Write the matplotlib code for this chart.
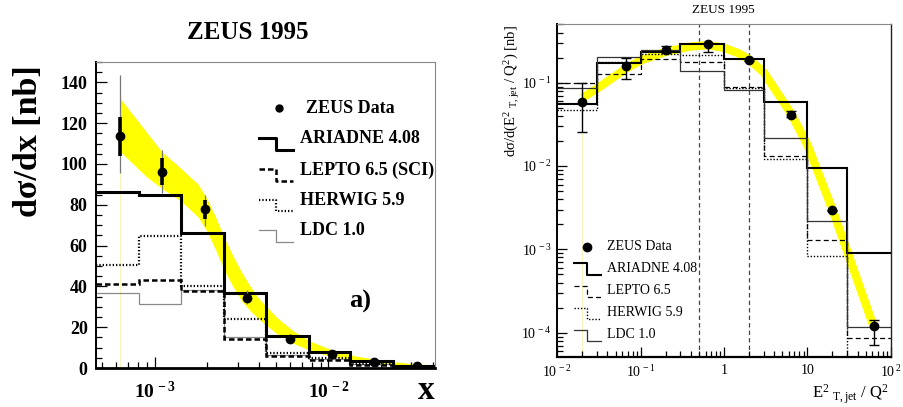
import numpy as np
import matplotlib
matplotlib.use('Agg')
import matplotlib.pyplot as plt
from matplotlib.ticker import FixedLocator, LogLocator, MultipleLocator, NullFormatter

plt.rcParams['font.family'] = ['Liberation Serif', 'DejaVu Serif']
plt.rcParams['mathtext.fontset'] = 'custom'
plt.rcParams['mathtext.rm'] = 'Liberation Serif'
plt.rcParams['mathtext.it'] = 'Liberation Serif:italic'
plt.rcParams['mathtext.bf'] = 'Liberation Serif:bold'

YELLOW = '#ffff00'
PALE_YELLOW = '#f5f0a0'

# ---- panel a) : dsigma/dx
x_edges_a = [4.6e-4, 8.1e-4, 1.42e-3, 2.5e-3, 4.4e-3, 7.7e-3, 1.33e-2, 2.35e-2, 4.1e-2]
ariadne_a = [86.5, 85.0, 66.3, 36.6, 15.5, 7.7, 3.3, 0.8]
lepto_a = [41.2, 43.1, 37.8, 14.2, 5.9, 4.1, 1.6, 0.4]
herwig_a = [50.5, 64.8, 40.2, 23.9, 7.5, 4.9, 2.0, 0.5]
ldc_a = [36.6, 31.3, 38.2, 15.0, 6.5, 4.5, 1.8, 0.4]

x_data_a = [6.35e-4, 1.10e-3, 1.94e-3, 3.40e-3, 6.03e-3, 1.05e-2, 1.83e-2, 3.22e-2]
y_data_a = [113.5, 96.2, 77.8, 34.5, 14.2, 6.8, 2.9, 1.1]
stat_a = [9.6, 6.5, 4.6, 1.5, 0.8, 0.5, 0.3, 0.1]
tot_up_a = [30.2, 10.5, 7.0, 3.5, 1.5, 0.8, 0.4, 0.2]
tot_dn_a = [18.0, 10.5, 8.0, 3.0, 1.5, 0.8, 0.4, 0.2]

band_x_a = [6.35e-4, 8.91e-4, 1.10e-3, 1.41e-3, 1.78e-3, 2.0e-3, 2.24e-3, 2.51e-3,
            2.82e-3, 3.16e-3, 3.55e-3, 3.98e-3, 5.01e-3, 6.31e-3, 7.94e-3, 1.0e-2,
            1.41e-2, 2.0e-2, 2.82e-2, 4.1e-2]
band_hi_a = [132, 116, 106, 98, 90, 83, 74, 64, 55, 47, 40, 34, 25, 18, 13, 9.5,
             6.0, 3.8, 2.4, 1.4]
band_lo_a = [106, 94, 88, 82, 74, 67, 58, 48, 40, 33, 28, 24, 17, 12, 8.5, 6.0,
             3.6, 2.2, 1.2, 0.5]

# ---- panel b) : dsigma/d(E_T^2/Q^2)
x_edges_b = [0.01, 0.03, 0.1, 0.3, 1, 3, 10, 30, 100]
ariadne_b = [0.0560, 0.172, 0.236, 0.289, 0.195, 0.0590, 9.6e-3, 9.1e-4]
lepto_b = [0.100, 0.127, 0.19, 0.179, 0.0895, 0.0133, 1.29e-3, 8.7e-5]
herwig_b = [0.047, 0.178, 0.219, 0.215, 0.087, 0.0121, 8.4e-4, 3e-5]
ldc_b = [0.0856, 0.201, 0.247, 0.139, 0.0820, 0.0215, 2.2e-3, 1.18e-4]

x_data_b = [0.02, 0.067, 0.2, 0.65, 2.0, 6.4, 20, 63]
y_data_b = [0.059, 0.16, 0.247, 0.288, 0.187, 0.0409, 2.96e-3, 1.2e-4]
y_hi_b = [0.1, 0.2, 0.278, 0.302, 0.195, 0.0457, 3.0e-3, 1.42e-4]
y_lo_b = [0.0258, 0.11, 0.225, 0.231, 0.18, 0.0383, 2.9e-3, 7.1e-5]

band_x_b = [0.02, 0.03, 0.067, 0.1, 0.2, 0.4, 0.65, 1.0, 1.5, 2.0, 3.0, 4.5, 6.4,
            10, 20, 30, 63]
band_y_b = [0.066, 0.085, 0.148, 0.185, 0.235, 0.272, 0.282, 0.262, 0.225, 0.19,
            0.133, 0.072, 0.042, 0.018, 3.0e-3, 9.5e-4, 1.15e-4]
cut_lines_b = [0.5, 2.0]

labels = ['ARIADNE 4.08', 'LEPTO 6.5 (SCI)', 'HERWIG 5.9', 'LDC 1.0']
labels_b = ['ARIADNE 4.08', 'LEPTO 6.5', 'HERWIG 5.9', 'LDC 1.0']


def step_key(ax, x0, xs, x1, yu, yl, **kw):
    ax.plot([x0, xs, xs, x1], [yu, yu, yl, yl], transform=ax.transAxes,
            clip_on=False, **kw)


fig = plt.figure(figsize=(9.04, 4.07), dpi=100)

# ================= left panel
ax1 = fig.add_axes([0.1062, 0.0958, 0.375, 0.752])
ax1.set_xscale('log')
ax1.set_xlim(4.6e-4, 4.1e-2)
ax1.set_ylim(0, 150)

ax1.fill_between(band_x_a, band_lo_a, band_hi_a, color=YELLOW, lw=0, zorder=1)
ax1.plot([band_x_a[0]] * 2, [0, band_lo_a[0]], color=PALE_YELLOW, lw=0.5, zorder=1)

sty_a = [dict(color='black', lw=2.2),
         dict(color='black', lw=1.8, ls=(0, (2.2, 1.2))),
         dict(color='black', lw=1.6, ls=(0, (0.6, 0.9))),
         dict(color='#888888', lw=0.9)]
for vals, st in zip([ldc_a, herwig_a, lepto_a, ariadne_a], sty_a[::-1]):
    ax1.stairs(vals, x_edges_a, baseline=None, zorder=2, **st)

ax1.errorbar(x_data_a, y_data_a, yerr=[tot_dn_a, tot_up_a], fmt='none',
             ecolor='#777777', elinewidth=0.9, zorder=3)
ax1.errorbar(x_data_a, y_data_a, yerr=[stat_a, stat_a], fmt='o', color='black',
             ms=6, elinewidth=2.6, zorder=4)

ax1.yaxis.set_major_locator(MultipleLocator(20))
ax1.yaxis.set_minor_locator(MultipleLocator(5))
ax1.xaxis.set_major_locator(FixedLocator([1e-3, 1e-2]))
ax1.xaxis.set_minor_locator(LogLocator(subs=np.arange(2, 10)))
ax1.xaxis.set_minor_formatter(NullFormatter())
ax1.set_xticklabels([r'$\mathbf{10^{\,-3}}$', r'$\mathbf{10^{\,-2}}$'])
ax1.tick_params(which='both', direction='in', top=False, right=False, width=0.9)
ax1.tick_params(which='major', length=8)
ax1.tick_params(which='minor', length=4.5)
ax1.tick_params(axis='y', labelsize=13, pad=6)
ax1.tick_params(axis='x', labelsize=14, pad=9)
for lab in ax1.get_yticklabels():
    lab.set_fontweight('bold')
for s in ['top', 'right']:
    ax1.spines[s].set_color('#888888')
    ax1.spines[s].set_linewidth(0.8)
ax1.spines['left'].set_linewidth(1.4)
ax1.spines['bottom'].set_linewidth(2.0)

ax1.plot([0.540], [0.850], 'o', color='black', ms=5, transform=ax1.transAxes)
ax1.text(0.619, 0.849, 'ZEUS Data', transform=ax1.transAxes, va='center',
         fontsize=13, fontweight='bold')
key_y = [(0.752, 0.712), (0.650, 0.611), (0.549, 0.513), (0.451, 0.412)]
for (yu, yl), lab, st in zip(key_y, labels, sty_a):
    step_key(ax1, 0.481, 0.531, 0.581, yu, yl, **st)
    ax1.text(0.602, yu - 0.003, lab, transform=ax1.transAxes, va='center',
             fontsize=13, fontweight='bold')
ax1.text(0.779, 0.216, 'a)', transform=ax1.transAxes, va='center', ha='center',
         fontsize=19, fontweight='bold')

fig.text(0.2743, 0.919, 'ZEUS 1995', ha='center', va='center', fontsize=18,
         fontweight='bold')
fig.text(0.031, 0.653, 'dσ/dx [nb]', rotation=90, ha='center', va='center',
         fontsize=24.5, fontweight='bold')
fig.text(0.481, 0.003, 'x', ha='right', va='bottom', fontsize=24,
         fontweight='bold')

# ================= right panel
ax2 = fig.add_axes([0.6165, 0.1221, 0.3688, 0.8182])
ax2.set_xscale('log')
ax2.set_yscale('log')
ax2.set_xlim(0.01, 100)
ax2.set_ylim(5.07e-5, 0.502)

for xc in cut_lines_b:
    ax2.axvline(xc, color='#444444', lw=0.9, ls=(0, (3.5, 2.5)), zorder=1)
ax2.plot(band_x_b, band_y_b, color=YELLOW, lw=6, solid_capstyle='butt',
         solid_joinstyle='round', zorder=1)
ax2.plot([x_data_b[0]] * 2, [5.07e-5, y_data_b[0]], color=PALE_YELLOW, lw=0.5,
         zorder=1)

sty_b = [dict(color='black', lw=1.5),
         dict(color='black', lw=0.9, ls=(0, (4, 2.5))),
         dict(color='black', lw=1.0, ls=(0, (1, 1.3))),
         dict(color='#333333', lw=0.9)]
for vals, st in zip([ariadne_b, lepto_b, herwig_b, ldc_b], sty_b):
    ax2.stairs(vals, x_edges_b, baseline=None, zorder=2, **st)

y_data_b_arr = np.array(y_data_b)
ax2.errorbar(x_data_b, y_data_b,
             yerr=[y_data_b_arr - np.array(y_lo_b), np.array(y_hi_b) - y_data_b_arr],
             fmt='o', color='black', ms=6, elinewidth=1.0, capsize=3.5,
             capthick=1.0, zorder=4)

ax2.xaxis.set_major_locator(FixedLocator([1e-2, 1e-1, 1, 10, 100]))
ax2.set_xticklabels([r'10$^{\,-2}$', r'10$^{\,-1}$', '1', '10', r'10$^{\,2}$'])
ax2.xaxis.set_minor_locator(LogLocator(subs=np.arange(2, 10)))
ax2.xaxis.set_minor_formatter(NullFormatter())
ax2.yaxis.set_major_locator(FixedLocator([1e-4, 1e-3, 1e-2, 1e-1]))
ax2.set_yticklabels([r'10$^{\,-4}$', r'10$^{\,-3}$', r'10$^{\,-2}$', r'10$^{\,-1}$'])
ax2.yaxis.set_minor_locator(LogLocator(subs=np.arange(2, 10)))
ax2.yaxis.set_minor_formatter(NullFormatter())
ax2.tick_params(which='both', direction='in', top=False, right=False, width=0.9,
                labelsize=10)
ax2.tick_params(which='major', length=7)
ax2.tick_params(which='minor', length=4)
ax2.tick_params(axis='y', pad=4)
ax2.tick_params(axis='x', pad=5)
ax2.spines['top'].set_color('#888888')
ax2.spines['top'].set_linewidth(0.8)
ax2.spines['right'].set_color('#222222')
ax2.spines['right'].set_linewidth(1.0)
ax2.spines['left'].set_linewidth(1.4)
ax2.spines['bottom'].set_linewidth(1.6)

ax2.plot([0.088], [0.332], 'o', color='black', ms=6, transform=ax2.transAxes)
ax2.text(0.150, 0.332, 'ZEUS Data', transform=ax2.transAxes, va='center',
         fontsize=10)
key_y_b = [(0.282, 0.247), (0.215, 0.182), (0.148, 0.115), (0.082, 0.049)]
for (yu, yl), lab, st in zip(key_y_b, labels_b, sty_b):
    step_key(ax2, 0.050, 0.090, 0.130, yu, yl, **st)
    ax2.text(0.150, (yu + yl) / 2 + 0.002, lab, transform=ax2.transAxes,
             va='center', fontsize=10)

fig.text(0.8006, 0.975, 'ZEUS 1995', ha='center', va='center', fontsize=9.5)
fig.text(0.566, 0.776, r'dσ/d(E$^{2}$ $_{\rm T,jet}$ / Q$^{2}$) [nb]', rotation=90,
         ha='center', va='center', fontsize=10.5)
fig.text(0.983, 0.022, r'E$^{2}$ $_{\rm T,jet}$ / Q$^{2}$', ha='right',
         va='baseline', fontsize=12)

fig.savefig('out.png', dpi=100)
